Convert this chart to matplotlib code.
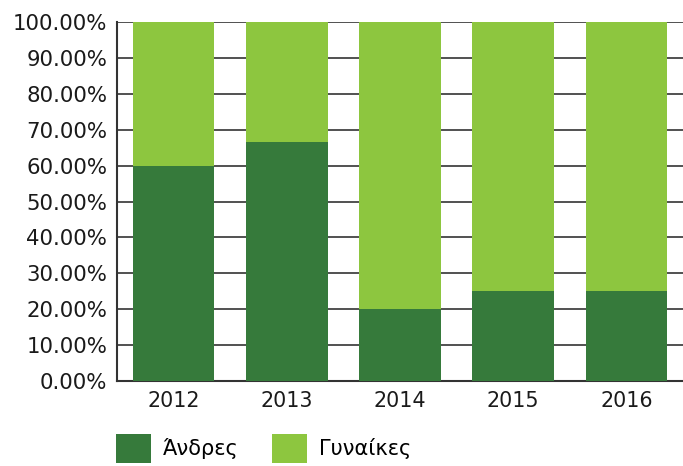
import matplotlib.pyplot as plt
from matplotlib.ticker import FuncFormatter

years = ['2012', '2013', '2014', '2015', '2016']
andres = [60.0, 66.67, 20.0, 25.0, 25.0]
gynaikes = [40.0, 33.33, 80.0, 75.0, 75.0]

plt.rcParams['font.family'] = ['DejaVu Sans']

fig = plt.figure(figsize=(6.83, 4.66), dpi=100)
ax = fig.add_axes([117 / 683, 1 - 381 / 466, 566 / 683, 359 / 466])

b1 = ax.bar(years, andres, width=0.72, color='#367a3b', label='Άνδρες', zorder=3)
b2 = ax.bar(years, gynaikes, bottom=andres, width=0.72, color='#8dc63f', label='Γυναίκες', zorder=3)

ax.set_ylim(0, 100)
ax.set_xlim(-0.5, 4.5)
ax.set_yticks(range(0, 101, 10))
ax.yaxis.set_major_formatter(FuncFormatter(lambda v, p: f'{v:.2f}%'))
ax.grid(axis='y', color='#333333', linewidth=1.2, zorder=0)
ax.tick_params(axis='y', length=0, labelsize=15.3, colors='#1a1a1a', pad=7)
ax.tick_params(axis='x', length=0, labelsize=14.9, colors='#1a1a1a', pad=7)
for s in ['top', 'right']:
    ax.spines[s].set_visible(False)
for s in ['left', 'bottom']:
    ax.spines[s].set_color('#333333')
    ax.spines[s].set_linewidth(1.5)

fig.legend(handles=[b1, b2], loc='upper left', bbox_to_anchor=(116 / 683, 1 - 434 / 466),
           ncol=2, frameon=False, fontsize=15, handlelength=1.7, handleheight=1.8,
           handletextpad=0.55, columnspacing=1.6, borderpad=0, borderaxespad=0)

fig.savefig('out.png', dpi=100)
